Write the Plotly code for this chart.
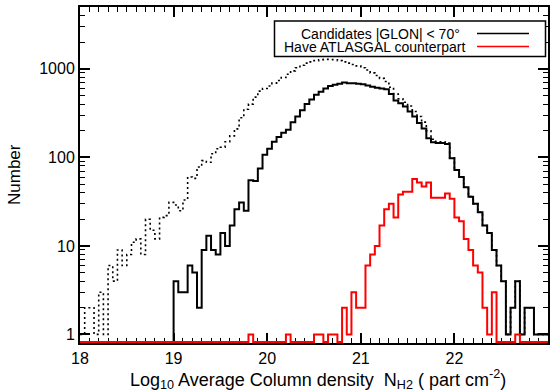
import numpy as np
import plotly.graph_objects as go

# ---- data: histogram counts, bins of width 0.05 starting at 18.00 (100 bins to 23.0) ----
bin_start = 18.0
bin_width = 0.05

all_candidates = [1, 2, 2, 1, 3, 1, 6, 4, 9, 6,
                  8, 11, 12, 8, 20, 15, 12, 21, 22, 31,
                  29, 25, 33, 60, 58, 78, 92, 88, 110, 125,
                  130, 150, 175, 210, 280, 350, 400, 480, 560,
                  600, 640, 690, 740, 800, 870, 950, 1030, 1100, 1160, 1200, 1240, 1270, 1280, 1275,
                  1270, 1240, 1200, 1160, 1120, 1080, 1030, 970, 900, 840, 780, 720, 620, 520,
                  460, 420, 380, 330, 290, 250, 200, 160, 150,
                  150,
                  145, 98, 72, 60, 46, 36, 30, 24, 17, 14, 9, 6, 4, 1, 2, 4, 1, 2, 2, 1, 1,
                  1]

glon_lt70 = [0, 0, 0, 0, 0, 0, 0, 0, 0, 0,
             0, 0, 0, 0, 0, 0, 0, 0, 0, 0,
             4, 3, 3, 6, 5, 2, 9, 13, 9, 8,
             14, 10, 17, 26, 31, 25, 55, 54, 75,
             107, 125, 150, 170, 190, 205, 250, 290, 340, 400, 450, 510, 550, 600, 640,
             660, 680, 700, 690, 690, 680, 670, 650, 630, 610, 600, 590, 520, 440,
             410, 375, 330, 290, 245, 212, 165, 148, 145,
             145,
             142, 98, 72, 60, 46, 36, 30, 24, 17, 14, 9, 6, 4, 1, 2, 4, 1, 2, 2, 1, 1,
             1]

atlasgal = [0, 0, 0, 0, 0, 0, 0, 0, 0, 0,
            0, 0, 0, 0, 0, 0, 0, 0, 0, 0,
            0, 0, 0, 0, 0, 0, 0, 0, 0, 0,
            0, 0, 0, 0, 0, 0, 1, 0, 0,
            0, 0, 0, 0, 0, 1, 0, 0, 0, 0, 0, 1, 1, 0, 1,
            1, 0, 2, 1, 3, 2, 2, 6, 8, 10, 17, 26, 30, 21,
            38, 41, 41, 57, 52, 47, 52, 35, 35,
            35,
            39, 34, 21, 19, 12, 9, 6, 5, 2, 1, 3, 0, 0, 0, 0, 1, 0, 0, 0, 0, 0,
            0]

x_ticks = [18, 19, 20, 21, 22]
y_ticks = [1, 10, 100, 1000]
y_ticktext = ["1", "10", "100", "1000"]

legend_labels = ["Candidates |GLON| < 70\u00b0", "Have ATLASGAL counterpart"]

# ---- geometry / styling ----
W, H = 552, 392
ML, MR, MT, MB = 80, 4, 7, 49
PW, PH = W - ML - MR, H - MT - MB
x_range = [18.0, 23.0]
y_lo, y_hi = np.log10(0.8), np.log10(5000)
px_per_dec = PH / (y_hi - y_lo)
floor_val = 10 ** (y_lo + 1.0 / px_per_dec)   # zero counts drawn on the bottom axis

n = len(all_candidates)
edges = bin_start + bin_width * np.arange(n + 1)


def step_y(counts):
    c = np.maximum(np.array(counts, dtype=float), floor_val)
    return np.append(c, c[-1])


fig = go.Figure()
fig.add_trace(go.Scatter(x=edges, y=step_y(all_candidates), mode="lines",
                         line=dict(color="black", width=1.6, dash="2px,3px", shape="hv"),
                         showlegend=False, hoverinfo="skip"))
fig.add_trace(go.Scatter(x=edges, y=step_y(glon_lt70), mode="lines",
                         line=dict(color="black", width=2, shape="hv"),
                         name=legend_labels[0], showlegend=False))
fig.add_trace(go.Scatter(x=edges, y=step_y(atlasgal), mode="lines",
                         line=dict(color="#ff0000", width=2, shape="hv"),
                         name=legend_labels[1], showlegend=False))

font_fam = "Liberation Sans, Arial, Helvetica, sans-serif"

minor_y = [m * 10 ** d for d in range(0, 4) for m in range(2, 10) if m * 10 ** d < 5000]

fig.update_xaxes(range=x_range, tickvals=x_ticks, ticktext=[str(v) for v in x_ticks],
                 ticks="inside", ticklen=10, tickwidth=1.5, tickcolor="black",
                 minor=dict(ticks="inside", ticklen=5, tickwidth=1.2, dtick=0.1, tick0=18,
                            tickcolor="black", showgrid=False),
                 showline=True, linewidth=2, linecolor="black", mirror="allticks",
                 showgrid=False, zeroline=False, layer="below traces",
                 tickfont=dict(size=16, color="black", family=font_fam))
fig.update_yaxes(type="log", range=[y_lo, y_hi], tickvals=y_ticks, ticktext=y_ticktext,
                 ticks="inside", ticklen=10, tickwidth=1.5, tickcolor="black",
                 minor=dict(ticks="inside", ticklen=5, tickwidth=1.2, tickvals=minor_y,
                            tickcolor="black", showgrid=False),
                 showline=True, linewidth=2, linecolor="black", mirror="allticks",
                 showgrid=False, zeroline=False, layer="below traces",
                 tickfont=dict(size=16, color="black", family=font_fam))


def px_to_paper_x(px):
    return (px - ML) / PW


def px_to_paper_y(py):
    return (H - MB - py) / PH


annotations = [
    dict(text="Log<sub>10</sub> Average Column density\u00a0\u00a0N<sub>H2</sub> ( part cm<sup>-2</sup>)",
         xref="paper", yref="paper", x=px_to_paper_x(318), y=px_to_paper_y(379),
         xanchor="center", yanchor="middle",
         showarrow=False, font=dict(size=18, color="black", family=font_fam)),
    dict(text="Number", xref="paper", yref="paper", x=px_to_paper_x(14), y=0.5, textangle=-90,
         xanchor="center", yanchor="middle", showarrow=False,
         font=dict(size=17, color="black", family=font_fam)),
]

# custom legend (IDL style: text right-aligned, line sample on the right)
leg_rows_y = [33.5, 46.5]
leg_colors = ["black", "#ff0000"]
leg_text_right = [462, 467]
shapes = [dict(type="rect", xref="paper", yref="paper",
               x0=px_to_paper_x(274.5), x1=px_to_paper_x(545.5),
               y0=px_to_paper_y(56.5), y1=px_to_paper_y(21),
               line=dict(color="black", width=1.5), fillcolor="white", layer="above")]
for lbl, yy, col, xr in zip(legend_labels, leg_rows_y, leg_colors, leg_text_right):
    annotations.append(dict(text=lbl, xref="paper", yref="paper", x=px_to_paper_x(xr),
                            y=px_to_paper_y(yy), xanchor="right", yanchor="middle", showarrow=False,
                            font=dict(size=14, color="black", family=font_fam)))
    shapes.append(dict(type="line", xref="paper", yref="paper",
                       x0=px_to_paper_x(477), x1=px_to_paper_x(529),
                       y0=px_to_paper_y(yy), y1=px_to_paper_y(yy),
                       line=dict(color=col, width=1.6), layer="above"))

fig.update_layout(width=W, height=H, margin=dict(l=ML, r=MR, t=MT, b=MB, autoexpand=False),
                  paper_bgcolor="white", plot_bgcolor="white", showlegend=False,
                  annotations=annotations, shapes=shapes,
                  font=dict(family=font_fam, color="black"))

fig.write_html("out.html", config={"displayModeBar": False},
               post_script="document.body.style.margin='0';document.body.style.overflow='hidden';")
